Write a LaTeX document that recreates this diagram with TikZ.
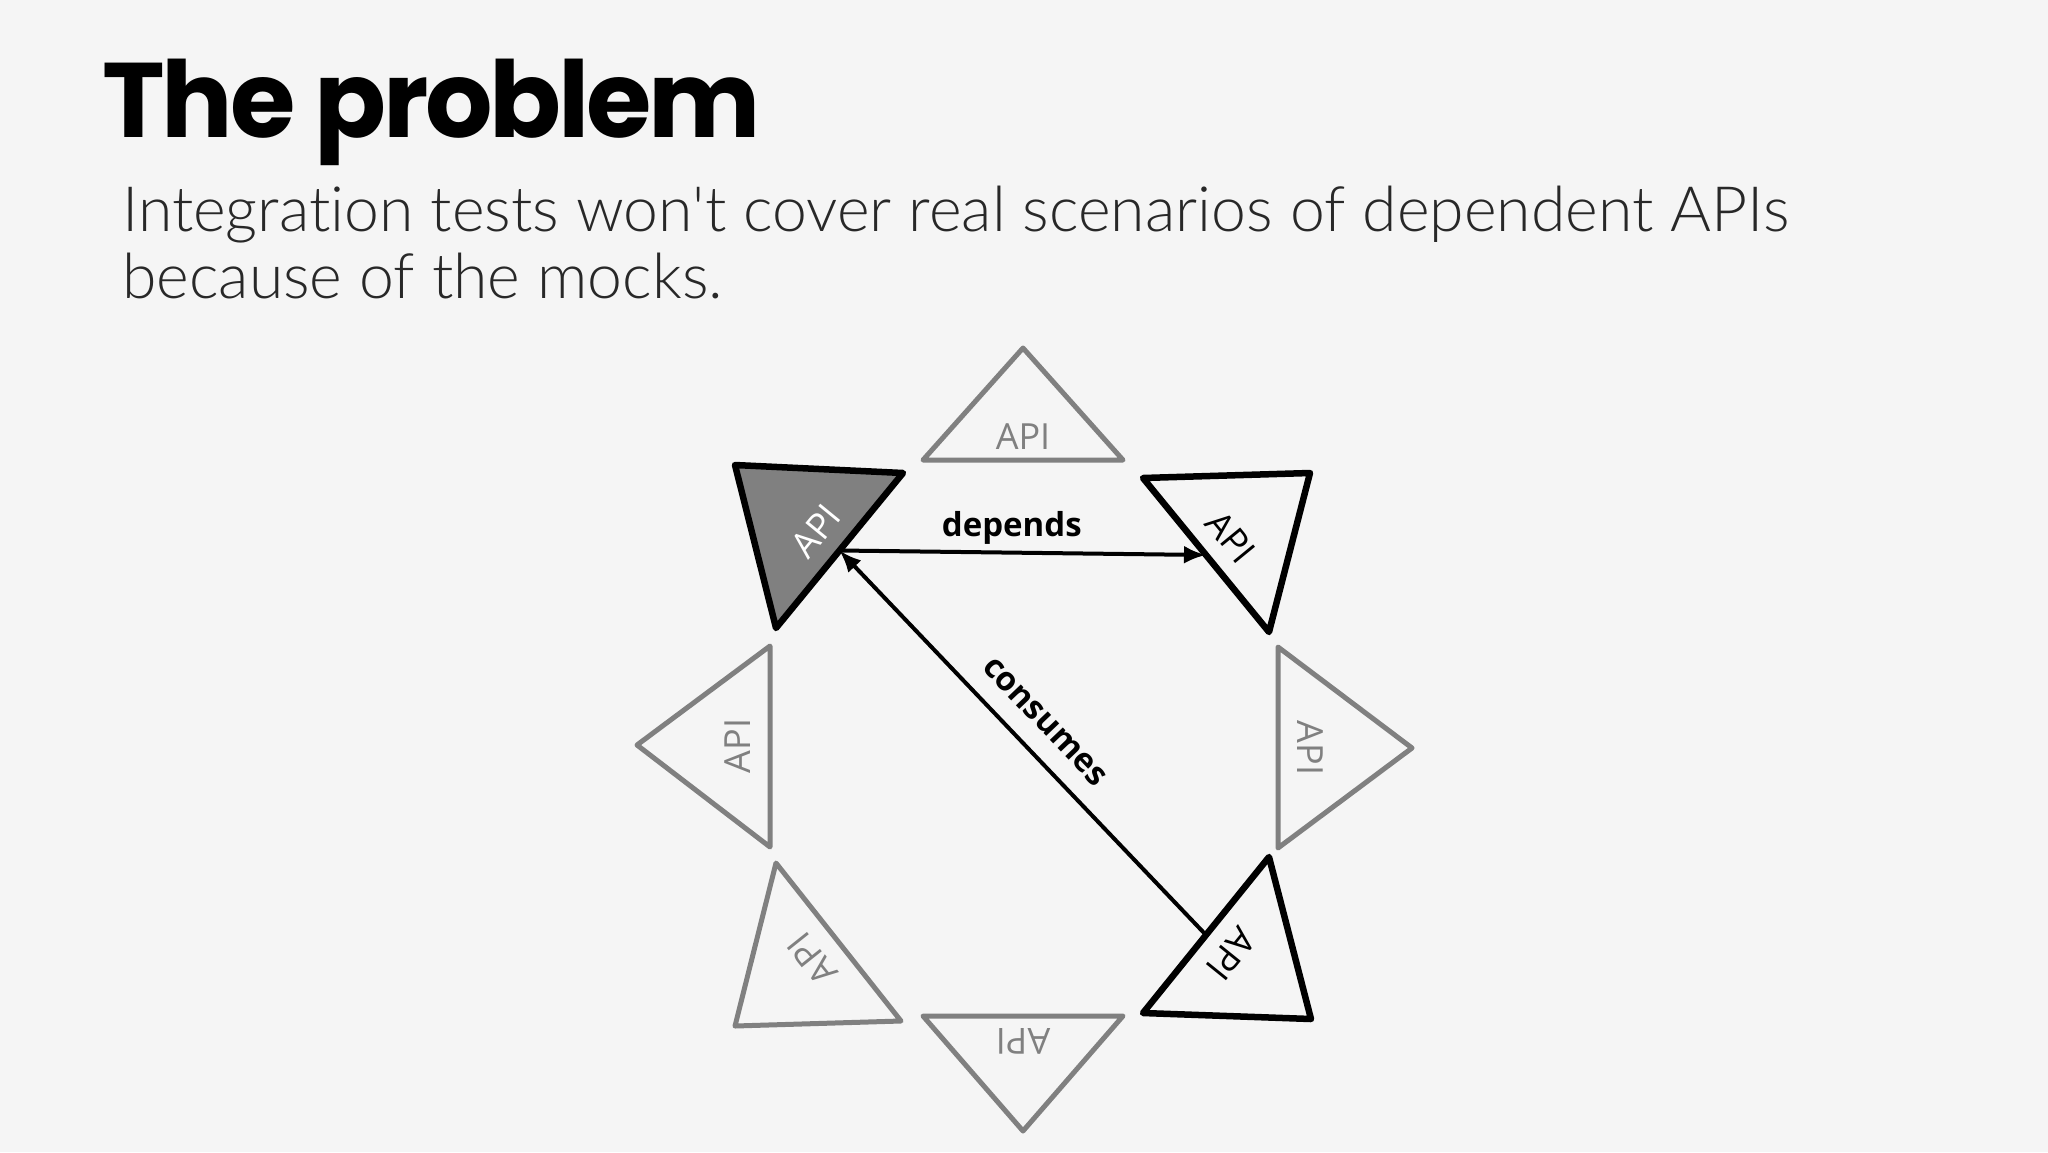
\documentclass[tikz,border=0pt]{standalone}
\usepackage{fontspec}
\usetikzlibrary{arrows.meta,calc}
\newfontfamily\titlefont{Poppins}[LetterSpace=-3]
\IfFontExistsTF{Lato Light}{\newfontfamily\subfont{Lato Light}[Ligatures=NoCommon]}{\newfontfamily\subfont{Lato}[Ligatures=NoCommon]}
\newfontfamily\lblfont{Open Sans}
\definecolor{bgcol}{RGB}{245,245,245}
\definecolor{trigray}{RGB}{128,128,128}
\definecolor{subcol}{RGB}{40,40,40}
\tikzset{
  graytri/.style={draw=trigray, line width=5pt, line join=round},
  blacktri/.style={draw=black, line width=6.5pt, line join=round},
  filledtri/.style={draw=black, fill=trigray, line width=6.5pt, line join=round},
  apilbl/.style={font=\lblfont\fontsize{36}{42}\selectfont, inner sep=0pt},
  graylbl/.style={apilbl, text=trigray},
  blacklbl/.style={apilbl, text=black},
  whitelbl/.style={apilbl, text=white},
  edgelbl/.style={font=\lblfont\bfseries\fontsize{33}{38}\selectfont, text=black},
  conn/.style={draw=black, line width=4pt, -{Latex[length=22pt,width=18pt]}}
}
\begin{document}
\begin{tikzpicture}[x=1pt,y=-1pt]
\fill[bgcol] (0,0) rectangle (2048,1152);
\useasboundingbox (0,0) rectangle (2048,1152);

% title and subtitle
\node[anchor=base west, inner sep=0pt, font=\titlefont\bfseries\fontsize{106}{118}\selectfont] (title) at (102,137) {The problem};
\node[anchor=base west, inner sep=0pt, text=subcol, font=\subfont\fontsize{62.5}{70}\selectfont] (sub1) at (122,231) {Integration tests won't cover real scenarios of dependent APIs};
\node[anchor=base west, inner sep=0pt, text=subcol, font=\subfont\fontsize{62.5}{70}\selectfont] (sub2) at (122,298) {because of the mocks.};

% triangle vertices
% top
\coordinate (tA) at (1023,348); \coordinate (tB1) at (923,460); \coordinate (tB2) at (1123,460);
% top right
\coordinate (trA) at (1310,473); \coordinate (trB1) at (1143,478); \coordinate (trB2) at (1269,632);
% right
\coordinate (rA) at (1412,748); \coordinate (rB1) at (1278,647); \coordinate (rB2) at (1278,848);
% bottom right
\coordinate (brA) at (1311,1019); \coordinate (brB1) at (1269,857); \coordinate (brB2) at (1143,1013);
% bottom
\coordinate (bA) at (1023,1131); \coordinate (bB1) at (923,1016); \coordinate (bB2) at (1123,1016);
% bottom left
\coordinate (blA) at (735,1026); \coordinate (blB1) at (776,863); \coordinate (blB2) at (901,1021);
% left
\coordinate (lA) at (637,745); \coordinate (lB1) at (770,646); \coordinate (lB2) at (770,847);
% top left (highlighted)
\coordinate (tlA) at (735,465); \coordinate (tlB1) at (903,473); \coordinate (tlB2) at (776,628);

\draw[graytri] (tA) -- (tB1) -- (tB2) -- cycle;
\draw[blacktri] (trA) -- (trB1) -- (trB2) -- cycle;
\draw[graytri] (rA) -- (rB1) -- (rB2) -- cycle;
\draw[blacktri] (brA) -- (brB1) -- (brB2) -- cycle;
\draw[graytri] (bA) -- (bB1) -- (bB2) -- cycle;
\draw[graytri] (blA) -- (blB1) -- (blB2) -- cycle;
\draw[graytri] (lA) -- (lB1) -- (lB2) -- cycle;
\draw[filledtri] (tlA) -- (tlB1) -- (tlB2) -- cycle;

% labels
\node[graylbl] (tL) at (1023,437) {API};
\node[blacklbl, rotate=-50.7] (trL) at (1231,537) {API};
\node[graylbl, rotate=-90] (rL) at (1310,748) {API};
\node[blacklbl, rotate=-128.9] (brL) at (1231,954) {API};
\node[graylbl, rotate=180] (bL) at (1023,1041) {API};
\node[graylbl, rotate=128.6] (blL) at (812,959) {API};
\node[graylbl, rotate=90] (lL) at (738,746) {API};
\node[whitelbl, rotate=50.7] (tlL) at (816,531) {API};

% connection points (midpoints of the inner edges)
\coordinate (tlM) at ($(tlB1)!0.5!(tlB2)$);
\coordinate (trM) at ($(trB1)!0.5!(trB2)$);
\coordinate (brM) at ($(brB1)!0.5!(brB2)$);

\draw[conn] (tlM) -- (trM) node[edgelbl, pos=0.47, anchor=base, yshift=16pt] (dep) {depends};
\draw[conn] (brM) -- (tlM) node[edgelbl, midway, sloped, above, inner sep=19pt] (cons) {consumes};
\end{tikzpicture}
\end{document}
